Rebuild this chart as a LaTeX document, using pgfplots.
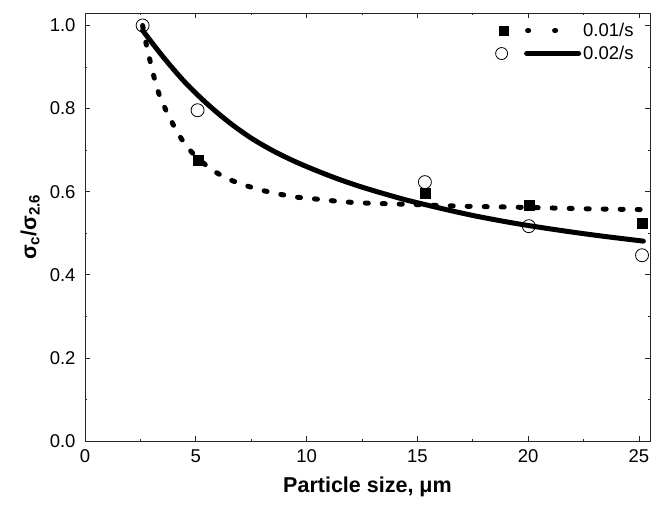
\documentclass[border=0pt]{standalone}
\usepackage{fontspec}
\setmainfont{Liberation Sans}
\usepackage{pgfplots}
\pgfplotsset{compat=1.18}
\begin{document}
\begin{tikzpicture}
\begin{axis}[
  scale only axis, width=565bp, height=428bp,
  xmin=0, xmax=25.5, ymin=0, ymax=1.03,
  xtick={0,5,10,15,20,25}, minor x tick num=1,
  ytick={0,0.2,0.4,0.6,0.8,1.0}, minor y tick num=1,
  tick align=inside,
  major tick length=5bp, minor tick length=2.5bp,
  axis line style={line width=0.8bp, black!85},
  every tick/.style={black!85, line width=0.7bp},
  /pgf/number format/assume math mode=true,
  ticklabel style={font=\fontsize{18.5bp}{20bp}\selectfont},
  xticklabel style={yshift=-5bp},
  yticklabel style={xshift=-6bp, /pgf/number format/.cd, fixed, fixed zerofill, precision=1},
  xlabel={Particle size, μm},
  ylabel={σ\textsubscript{c}/σ\textsubscript{2.6}},
  label style={font=\fontsize{21.5bp}{24bp}\selectfont\bfseries},
  xlabel style={at={(axis description cs:0.5,-0.107)}, anchor=center},
  ylabel style={at={(axis description cs:-0.097,0.5)}, anchor=center},
  legend style={draw=none, fill=none, at={(0.980,0.986)}, anchor=north east,
    font=\fontsize{18.5bp}{20bp}\selectfont, nodes={inner sep=2bp}, row sep=4bp},
  legend cell align=left,
]
\addplot[black, line width=5bp, line cap=round, dash pattern=on 3bp off 14bp, smooth, forget plot] coordinates {
(2.6,1.0) (2.86,0.932) (3.36,0.832) (4.18,0.742) (4.87,0.692) (5.70,0.654)
(6.45,0.631) (7.24,0.615) (8.02,0.603) (8.78,0.594) (9.53,0.587) (10.3,0.583)
(11.0,0.579) (11.84,0.575) (13.0,0.572) (14.86,0.569) (17.1,0.565) (20.1,0.562)
(22.5,0.559) (25.1,0.557)};
\addplot[black, line width=5bp, line cap=round, smooth, forget plot] coordinates {
(2.6,0.988) (3.5,0.926) (4.5,0.864) (5.5,0.812) (6.5,0.767) (7.5,0.729)
(8.5,0.698) (9.5,0.672) (10.5,0.6495) (11.5,0.629) (12.5,0.611) (13.5,0.595)
(14.5,0.580) (15.5,0.567) (16.5,0.5545) (17.5,0.5428) (18.5,0.5325) (19.5,0.523)
(20.5,0.5145) (21.5,0.5065) (22.5,0.499) (23.5,0.492) (24.5,0.4855) (25.2,0.481)};
\addplot[only marks, mark=square*, mark size=5bp, black, forget plot] coordinates {
(5.1,0.675) (15.34,0.597) (20.03,0.568) (25.15,0.525)};
\addplot[only marks, mark=o, mark size=6.5bp, black, mark options={line width=0.8bp}, forget plot] coordinates {
(2.6,1.0) (5.08,0.796) (15.34,0.623) (20.03,0.517) (25.14,0.447)};
\addlegendimage{legend image code/.code={
  \fill[black] (-4.5bp,-4.5bp) rectangle (4.5bp,4.5bp);
  \draw[black, line width=5bp, line cap=round, dash pattern=on 1bp off 26bp] (24bp,0bp) -- (53bp,0bp);
}}
\addlegendentry{0.01/s}
\addlegendimage{legend image code/.code={
  \draw[black, line width=0.8bp] (-2bp,0bp) circle (6bp);
  \draw[black, line width=5bp, line cap=round] (23bp,0bp) -- (75bp,0bp);
}}
\addlegendentry{0.02/s}
\end{axis}
\path (current axis.south west) ++(-85bp,-64bp);
\path (current axis.north east) ++(13bp,13bp);
\end{tikzpicture}
\end{document}
